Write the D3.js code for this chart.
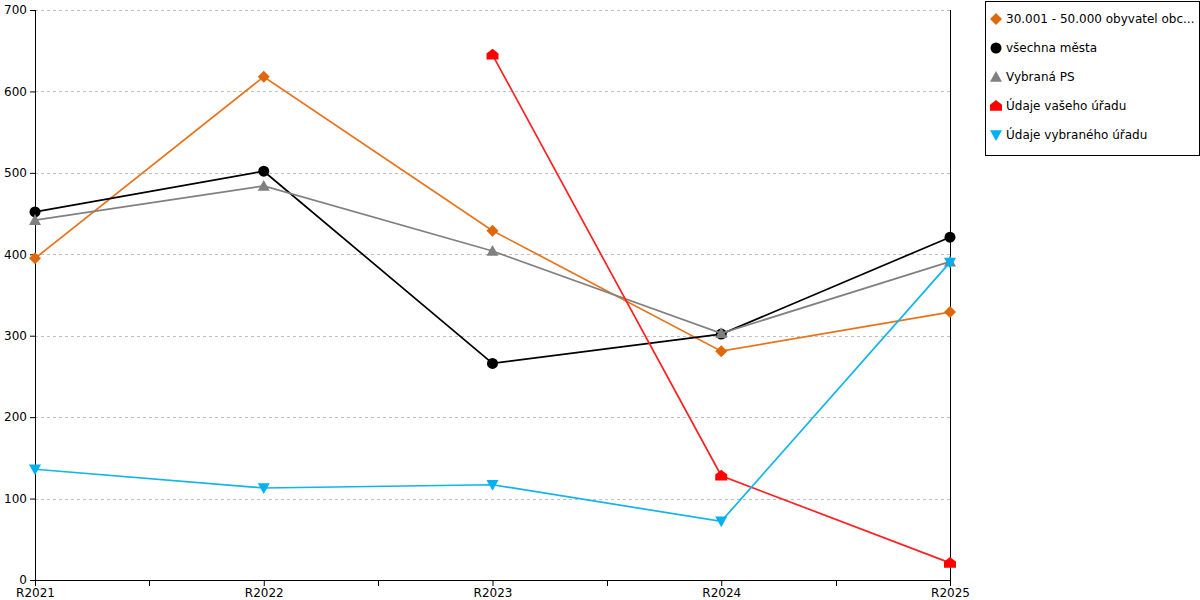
<!DOCTYPE html>
<html>
<head>
<meta charset="utf-8">
<script src="https://cdn.jsdelivr.net/npm/d3@7"></script>
<style>
  body { margin: 0; background: #fff; }
  svg { font-family: "DejaVu Sans", Verdana, sans-serif; }
</style>
</head>
<body>
<svg id="chart" width="1200" height="600"></svg>
<script>
// categories and tick values
var years = ["R2021", "R2022", "R2023", "R2024", "R2025"];
var yTicks = [0, 100, 200, 300, 400, 500, 600, 700];

// series values (null = no data)
var obyvatel = [395, 618, 429, 281, 329];
var vsechnaMesta = [452, 502, 266, 302, 421];
var vybranaPS = [442, 484, 404, 303, 391];
var vasUrad = [null, null, 645, 128, 21];
var vybranyUrad = [136, 113, 117, 72, 390];

var series = [
  { name: "30.001 - 50.000 obyvatel obc...", values: obyvatel, line: "#e8731c", fill: "#e0680c", shape: "diamond" },
  { name: "všechna města", values: vsechnaMesta, line: "#000000", fill: "#000000", shape: "circle" },
  { name: "Vybraná PS", values: vybranaPS, line: "#808080", fill: "#808080", shape: "triangle" },
  { name: "Údaje vašeho úřadu", values: vasUrad, line: "#ff2020", fill: "#ff0000", shape: "house" },
  { name: "Údaje vybraného úřadu", values: vybranyUrad, line: "#12b4ec", fill: "#00b0f0", shape: "down" }
];

var svg = d3.select("#chart");
var plotLeft = 35, plotRight = 950, plotTop = 10, plotBottom = 580;

var x = d3.scalePoint().domain(years).range([plotLeft, plotRight]);
var y = d3.scaleLinear().domain([0, 700]).range([plotBottom, plotTop]);

// gridlines (half-pixel offset keeps them crisp)
svg.append("g")
  .selectAll("line")
  .data(yTicks.filter(function (d) { return d > 0; }))
  .join("line")
  .attr("x1", plotLeft).attr("x2", plotRight)
  .attr("y1", function (d) { return Math.round(y(d)) + 0.5; })
  .attr("y2", function (d) { return Math.round(y(d)) + 0.5; })
  .attr("stroke", "#c0c0c0")
  .attr("stroke-dasharray", "3,3");

// right border line
svg.append("line")
  .attr("x1", plotRight + 0.5).attr("x2", plotRight + 0.5)
  .attr("y1", plotTop).attr("y2", plotBottom)
  .attr("stroke", "#000");

// y axis
var yAxis = svg.append("g")
  .attr("transform", "translate(" + plotLeft + ",0)")
  .call(d3.axisLeft(y).tickValues(yTicks).tickSize(5).tickPadding(3));
yAxis.select(".domain").attr("d", "M0.5," + plotTop + "V" + plotBottom);
yAxis.selectAll("text").attr("font-size", 12).attr("fill", "#000").attr("font-family", "DejaVu Sans, Verdana, sans-serif");

// x axis with minor ticks between categories
var xAxis = svg.append("g")
  .attr("transform", "translate(0," + plotBottom + ")")
  .call(d3.axisBottom(x).tickSize(6).tickPadding(2));
xAxis.select(".domain").attr("d", "M" + plotLeft + ",0.5H" + (plotRight + 1));
xAxis.selectAll("text").attr("font-size", 12).attr("fill", "#000").attr("font-family", "DejaVu Sans, Verdana, sans-serif");

var mids = d3.pairs(years).map(function (p) { return Math.round((x(p[0]) + x(p[1])) / 2) + 0.5; });
xAxis.selectAll(".minor")
  .data(mids)
  .join("line")
  .attr("class", "minor")
  .attr("x1", function (d) { return d; })
  .attr("x2", function (d) { return d; })
  .attr("y1", 0).attr("y2", 6)
  .attr("stroke", "#000");

// marker paths
function markerPath(shape, s) {
  if (shape === "diamond") return "M0," + (-s) + "L" + s + ",0L0," + s + "L" + (-s) + ",0Z";
  if (shape === "circle") return d3.symbol().type(d3.symbolCircle).size(Math.PI * s * s)();
  if (shape === "triangle") return "M0," + (-s) + "L" + s + "," + (s * 0.8) + "L" + (-s) + "," + (s * 0.8) + "Z";
  if (shape === "down") return "M0," + s + "L" + s + "," + (-s * 0.8) + "L" + (-s) + "," + (-s * 0.8) + "Z";
  if (shape === "house") return "M0," + (-s) + "L" + s + "," + (-s * 0.2) + "L" + s + "," + (s * 0.8) + "L" + (-s) + "," + (s * 0.8) + "L" + (-s) + "," + (-s * 0.2) + "Z";
}

var line = d3.line()
  .defined(function (d) { return d.v != null; })
  .x(function (d) { return x(d.year); })
  .y(function (d) { return y(d.v); });

series.forEach(function (s) {
  var pts = years.map(function (yr, i) { return { year: yr, v: s.values[i] }; });
  var g = svg.append("g");
  g.append("path")
    .attr("d", line(pts))
    .attr("fill", "none")
    .attr("stroke", s.line)
    .attr("stroke-width", 1.7);
  g.selectAll("path.mk")
    .data(pts.filter(function (d) { return d.v != null; }))
    .join("path")
    .attr("class", "mk")
    .attr("transform", function (d) { return "translate(" + x(d.year) + "," + y(d.v) + ")"; })
    .attr("d", markerPath(s.shape, s.shape === "circle" ? 5.5 : 6))
    .attr("fill", s.fill);
});

// legend
var legend = svg.append("g").attr("transform", "translate(985,1)");
legend.append("rect")
  .attr("x", 0.5).attr("y", 0.5)
  .attr("width", 214).attr("height", 154)
  .attr("fill", "#fff")
  .attr("stroke", "#000");

var item = legend.selectAll("g.item")
  .data(series)
  .join("g")
  .attr("class", "item")
  .attr("transform", function (d, i) { return "translate(0," + (18 + i * 29) + ")"; });
item.append("path")
  .attr("transform", "translate(11,0)")
  .attr("d", function (d) { return markerPath(d.shape, d.shape === "circle" ? 5.5 : 6); })
  .attr("fill", function (d) { return d.fill; });
item.append("text")
  .attr("x", 21)
  .attr("dy", "0.35em")
  .attr("font-size", 12)
  .attr("fill", "#000")
  .text(function (d) { return d.name; });
</script>
</body>
</html>
